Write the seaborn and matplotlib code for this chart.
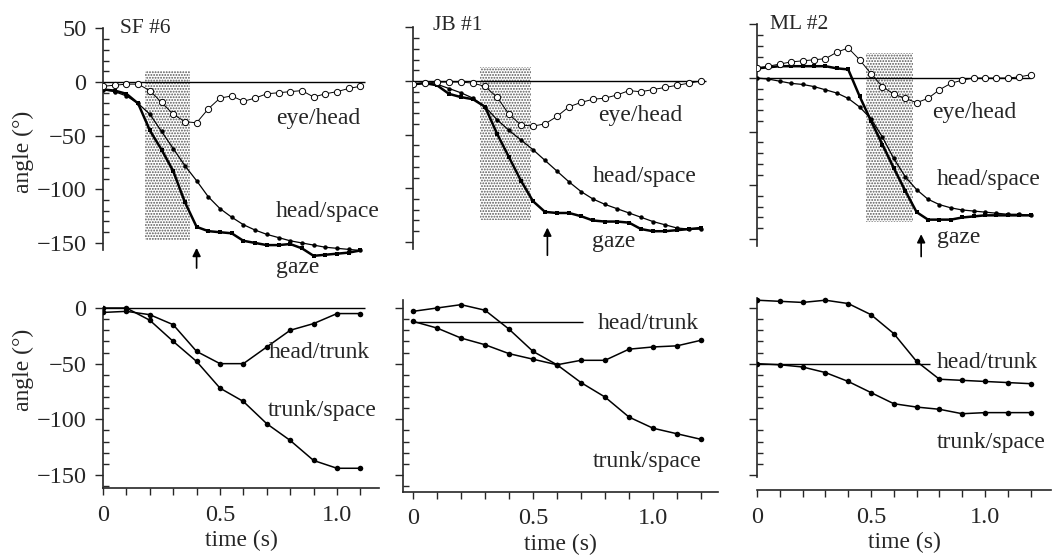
import matplotlib
matplotlib.use("Agg")
import matplotlib.pyplot as plt
import seaborn as sns
import pandas as pd
from matplotlib.ticker import FixedLocator

# ---- data ----
subjects = ["SF #6", "JB #1", "ML #2"]

# top row: eye/head, head/space, gaze (deg) sampled every 0.05 s
t_sf = [0, 0.05, 0.1, 0.15, 0.2, 0.25, 0.3, 0.35, 0.4, 0.45, 0.5, 0.55,
        0.6, 0.65, 0.7, 0.75, 0.8, 0.85, 0.9, 0.95, 1.0, 1.05, 1.1]
eye_sf = [-4, -3, -2, -2, -8, -19, -30, -37, -38, -25, -15, -13,
          -18, -15, -11, -10, -9, -8, -14, -11, -9, -6, -4]
head_sf = [-7, -9, -13, -20, -30, -46, -62, -78, -92, -107, -118, -126,
           -133, -138, -142, -145, -148, -150, -152, -154, -155, -156, -157]
gaze_sf = [-7, -8, -11, -20, -45, -63, -83, -112, -135, -139, -140, -141,
           -148, -150, -152, -152, -151, -155, -162, -161, -160, -159, -157]

t_jb = [0, 0.05, 0.1, 0.15, 0.2, 0.25, 0.3, 0.35, 0.4, 0.45, 0.5, 0.55,
        0.6, 0.65, 0.7, 0.75, 0.8, 0.85, 0.9, 0.95, 1.0, 1.05, 1.1, 1.15, 1.2]
eye_jb = [-3, -2, -1, -1, -1, -2, -5, -15, -31, -41, -42, -40,
          -33, -24, -20, -17, -16, -13, -9, -10, -8, -6, -4, -2, 0]
head_jb = [-3, -2, -3, -7, -11, -16, -24, -36, -46, -55, -64, -74,
           -84, -94, -103, -110, -115, -119, -123, -127, -131, -134, -137, -138, -138]
gaze_jb = [-3, -2, -4, -12, -15, -17, -24, -49, -71, -93, -112, -122,
           -123, -123, -126, -130, -131, -131, -132, -138, -140, -140, -139, -138, -137]

t_ml = t_jb
eye_ml = [9, 11, 13, 15, 16, 17, 18, 24, 28, 17, 4, -8,
          -15, -19, -23, -19, -11, -5, -2, 0, 0, 0, 0, 1, 3]
head_ml = [0, -1, -3, -5, -6, -8, -11, -14, -19, -27, -38, -55,
           -75, -92, -104, -113, -118, -121, -123, -124, -125, -126, -127, -127, -128]
gaze_ml = [9, 10, 11, 11, 11, 11, 11, 9, 8, -17, -40, -62,
           -84, -105, -125, -132, -132, -132, -130, -129, -128, -128, -128, -128, -128]

# shaded intervals [t0, t1, lo, hi] and arrow [t, tip, tail]
shade = [[0.18, 0.37, -147, 10], [0.28, 0.49, -130, 13], [0.48, 0.685, -134, 23]]
arrows = [[0.40, -152, -176], [0.56, -134, -165], [0.72, -143, -169]]
zero_end_top = [1.12, 1.22, 1.2]

# bottom row: head/trunk and trunk/space, every 0.1 s
tb_sf = [0, 0.1, 0.2, 0.3, 0.4, 0.5, 0.6, 0.7, 0.8, 0.9, 1.0, 1.1]
ht_sf = [-4, -3, -6, -15, -39, -50, -50, -35, -20, -14, -5, -5]
ts_sf = [0, 0, -11, -30, -48, -72, -84, -104, -119, -137, -144, -144]

tb_jb = [0, 0.1, 0.2, 0.3, 0.4, 0.5, 0.6, 0.7, 0.8, 0.9, 1.0, 1.1, 1.2]
ht_jb = [-3, 0, 3, -2, -19, -39, -51, -47, -47, -37, -35, -34, -29]
ts_jb = [-12, -18, -27, -33, -41, -46, -51, -67, -80, -98, -108, -113, -118]

tb_ml = tb_jb
ht_ml = [7, 6, 5, 7, 4, -6, -23, -48, -64, -65, -66, -67, -68]
ts_ml = [-50, -51, -53, -58, -66, -76, -86, -89, -91, -95, -94, -94, -94]

ref_line = [[0, 1.12], [-12.5, 0.71], [-50, 0.76]]   # level, end time

top_data = [(t_sf, eye_sf, head_sf, gaze_sf),
            (t_jb, eye_jb, head_jb, gaze_jb),
            (t_ml, eye_ml, head_ml, gaze_ml)]
bot_data = [(tb_sf, ht_sf, ts_sf), (tb_jb, ht_jb, ts_jb), (tb_ml, ht_ml, ts_ml)]

# label positions (x, y) per panel
top_labels = [
    {"eye/head": (0.74, -34), "head/space": (0.74, -121), "gaze": (0.74, -173)},
    {"eye/head": (0.77, -32), "head/space": (0.75, -89), "gaze": (0.745, -150)},
    {"eye/head": (0.77, -32), "head/space": (0.79, -95), "gaze": (0.79, -149)},
]
bot_labels = [
    {"head/trunk": (0.71, -40), "trunk/space": (0.705, -92)},
    {"head/trunk": (0.77, -13.5), "trunk/space": (0.75, -138)},
    {"head/trunk": (0.79, -49), "trunk/space": (0.79, -121)},
]
title_pos = [(0.073, 50), (0.083, 52), (0.057, 50)]

# ---- styling ----
sns.set_style("ticks")
plt.rcParams["font.family"] = ["Liberation Serif", "DejaVu Serif"]
plt.rcParams["hatch.linewidth"] = 0.9
TICK_FS = 17.5
LAB_FS = 17
TITLE_FS = 15.5
AX_FS = 17

W, H = 1053, 558
fig = plt.figure(figsize=(W / 100, H / 100), dpi=100)

# pixel layout: origin x, zero y, px per s, xlim
top_geo = [(103, 82, 234, (0, 1.18)), (413, 81, 240, (0, 1.27)), (757, 78, 228, (0, 1.29))]
bot_geo = [(103, 308, 234, (0, 1.18)), (413, 308, 240, (-0.04, 1.27)), (757, 308, 228, (0, 1.29))]
bot_spine = [-162, -165, -163.5]
bot_left_bounds = [(-162, 0), (-165, 7), (-152, 9)]
bot_minor_low = [-160, -160, -150]


def px_axes(x0, y0, sx, sy, xlim, ylim):
    left = x0 + xlim[0] * sx
    right = x0 + xlim[1] * sx
    top = y0 - ylim[1] * sy
    bottom = y0 - ylim[0] * sy
    ax = fig.add_axes([left / W, 1 - bottom / H, (right - left) / W, (bottom - top) / H])
    ax.set_xlim(xlim)
    ax.set_ylim(ylim)
    return ax


for i in range(3):
    # ---------- top panel ----------
    x0, y0, sx, xlim = top_geo[i]
    ax = px_axes(x0, y0, sx, 1.073, xlim, (-180, 55))
    t, eye, head, gaze = top_data[i]
    df = pd.DataFrame({"time": t, "eye": eye, "head": head, "gaze": gaze})

    s0, s1, lo, hi = shade[i]
    ax.fill_between([s0, s1], lo, hi, facecolor="white", hatch="......",
                    edgecolor="#555555", linewidth=0, zorder=1)
    ax.hlines(0, 0, zero_end_top[i], color="k", lw=1, zorder=2)

    sns.lineplot(data=df, x="time", y="gaze", ax=ax, color="k", linewidth=1.8,
                 marker="s", markersize=3.2, markeredgewidth=0, estimator=None, zorder=4)
    sns.lineplot(data=df, x="time", y="head", ax=ax, color="k", linewidth=0.9,
                 marker="o", markersize=3.2, markeredgewidth=0, estimator=None, zorder=3)
    sns.lineplot(data=df, x="time", y="eye", ax=ax, color="k", linewidth=0.7,
                 marker="o", markersize=4.5, markerfacecolor="white",
                 markeredgecolor="k", markeredgewidth=0.7, estimator=None, zorder=5)

    at, tip, tail = arrows[i]
    ax.annotate("", xy=(at, tip), xytext=(at, tail), annotation_clip=False,
                arrowprops=dict(arrowstyle="-|>", color="k", lw=1.2, mutation_scale=12))

    for name, (lx, ly) in top_labels[i].items():
        ax.text(lx, ly, name, fontsize=LAB_FS, va="center", ha="left")
    ax.text(title_pos[i][0], title_pos[i][1], subjects[i], fontsize=TITLE_FS,
            va="center", ha="left")

    sns.despine(ax=ax, bottom=True)
    ax.spines["left"].set_bounds(-157, 50)
    ax.spines["left"].set_linewidth(1.2)
    ax.set_xticks([])
    ax.yaxis.set_major_locator(FixedLocator([50, 0, -50, -100, -150]))
    ax.yaxis.set_minor_locator(FixedLocator(list(range(-150, 51, 10))))
    ax.tick_params(axis="y", which="major", direction="out", length=6, width=1,
                   labelsize=TICK_FS, pad=6)
    ax.tick_params(axis="y", which="minor", direction="in", length=4, width=1)
    ax.set_xlabel("")
    if i == 0:
        ax.set_ylabel("angle (°)", fontsize=AX_FS)
        ax.yaxis.set_label_coords(-0.25, 0.49)
    else:
        ax.set_ylabel("")
        ax.tick_params(axis="y", which="both", labelleft=False)

    # ---------- bottom panel ----------
    x0, y0, sx, xlim = bot_geo[i]
    bx = px_axes(x0, y0, sx, 1.113, xlim, (-170, 10))
    tb, ht, ts = bot_data[i]
    dfb = pd.DataFrame({"time": tb, "ht": ht, "ts": ts})

    lvl, end = ref_line[i]
    bx.hlines(lvl, 0, end, color="k", lw=1, zorder=2)
    for col in ["ht", "ts"]:
        sns.lineplot(data=dfb, x="time", y=col, ax=bx, color="k", linewidth=1.1,
                     marker="o", markersize=4, markeredgewidth=0, estimator=None, zorder=3)

    for name, (lx, ly) in bot_labels[i].items():
        bx.text(lx, ly, name, fontsize=LAB_FS, va="center", ha="left")

    sns.despine(ax=bx)
    bx.spines["bottom"].set_position(("data", bot_spine[i]))
    bx.spines["left"].set_bounds(*bot_left_bounds[i])
    for sp in ["left", "bottom"]:
        bx.spines[sp].set_linewidth(1.2)
    bx.xaxis.set_major_locator(FixedLocator([0, 0.5, 1.0]))
    bx.xaxis.set_minor_locator(FixedLocator([0.1, 0.2, 0.3, 0.4, 0.6, 0.7, 0.8, 0.9, 1.1, 1.2]))
    bx.set_xticklabels(["0", "0.5", "1.0"])
    bx.yaxis.set_major_locator(FixedLocator([0, -50, -100, -150]))
    bx.yaxis.set_minor_locator(FixedLocator(list(range(bot_minor_low[i], 1, 10))))
    bx.tick_params(axis="x", which="major", direction="out", length=5, width=1,
                   labelsize=TICK_FS, pad=7)
    bx.tick_params(axis="x", which="minor", direction="out", length=5, width=1)
    bx.tick_params(axis="y", which="major", direction="out", length=6, width=1,
                   labelsize=TICK_FS, pad=6)
    bx.tick_params(axis="y", which="minor", direction="in", length=4, width=1)
    bx.set_xlabel("time (s)", fontsize=AX_FS, labelpad=3)
    if i == 0:
        bx.set_ylabel("angle (°)", fontsize=AX_FS)
        bx.yaxis.set_label_coords(-0.25, 0.635)
    else:
        bx.set_ylabel("")
        bx.tick_params(axis="y", which="both", labelleft=False)

fig.savefig("out.png", dpi=100, facecolor="white")
